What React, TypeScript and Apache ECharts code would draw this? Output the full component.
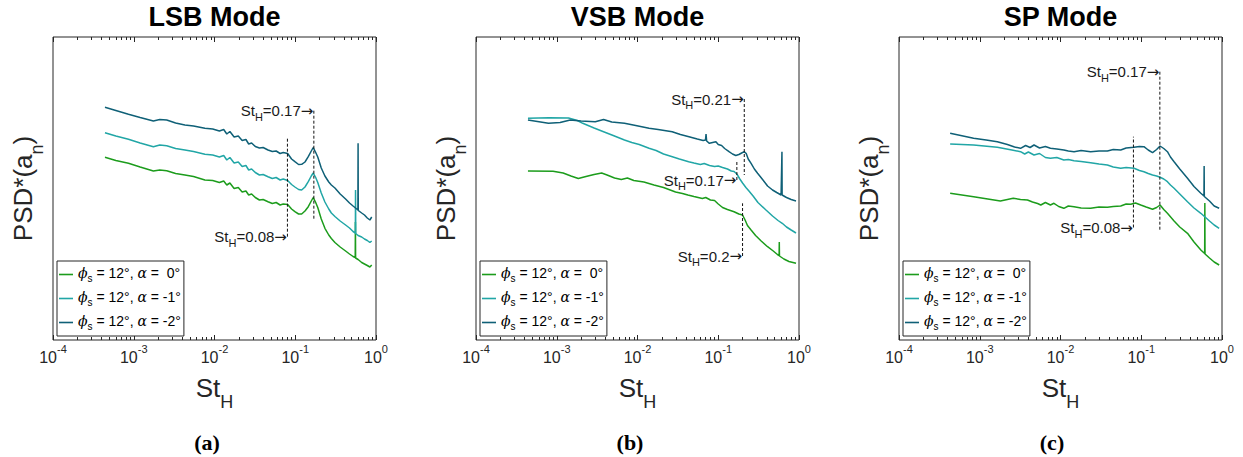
import React, { useEffect, useRef } from 'react';
import * as echarts from 'echarts';

type Pt = [number, number];
type Peak = [number, number, number];

const FONT = '"Liberation Sans", Arial, Helvetica, sans-serif';
const GREEK = '"DejaVu Serif", serif';
const ARROW_FONT = '"DejaVu Sans", sans-serif';
const AXIS_COLOR = '#262626';

const modeTitles = ['LSB Mode', 'VSB Mode', 'SP Mode'];
const panelCaptions = ['(a)', '(b)', '(c)'];
const seriesNames = ['alpha 0', 'alpha -1', 'alpha -2'];
const alphaTexts = [' 0°', '-1°', '-2°'];
const seriesColors = ['#1c9c1c', '#21a6a6', '#0f6077'];

// ---- LSB mode: [St_H, PSD* (arbitrary units)] ----
const lsbAlpha0: Pt[] = [
  [0.00044, 182.7], [0.0006, 179.5], [0.00086, 176.7], [0.0012, 173], [0.00175, 169], [0.0021, 170], [0.00256, 169.3],
  [0.0033, 166.5], [0.0043, 165], [0.0055, 163.5], [0.0076, 160], [0.0095, 159.5], [0.0115, 157.5], [0.013, 159],
  [0.0142, 155], [0.0155, 157], [0.0175, 151.5], [0.0197, 152.5], [0.022, 148], [0.0245, 149], [0.0265, 145],
  [0.0288, 146], [0.032, 142.5], [0.036, 140], [0.04, 140.5], [0.046, 138.3], [0.052, 136.5], [0.058, 137.5],
  [0.065, 135], [0.071, 136], [0.0805, 135.5], [0.09, 131], [0.099, 128.3], [0.11, 126], [0.12, 126], [0.132, 129],
  [0.145, 133.3], [0.158, 139], [0.167, 142.5], [0.178, 138], [0.19, 132.5], [0.21, 121], [0.233, 111.7], [0.26, 105],
  [0.28, 101.5], [0.31, 97.5], [0.36, 93], [0.42, 89], [0.47, 86], [0.52, 83.5], [0.553, 82.5], [0.556, 118],
  [0.559, 82], [0.6, 80.5], [0.665, 77.5], [0.72, 76], [0.78, 74.5], [0.84, 73], [0.885, 75],
];
const lsbAlpha1: Pt[] = [
  [0.00044, 207.3], [0.0006, 204], [0.00086, 200.7], [0.0012, 197], [0.00175, 193.3], [0.0021, 195], [0.00256, 194.3],
  [0.0033, 191.5], [0.0043, 190], [0.0055, 188.5], [0.0076, 185.7], [0.0095, 185], [0.0115, 183], [0.013, 184.5],
  [0.0142, 180], [0.0155, 182.5], [0.0175, 177], [0.0197, 178], [0.022, 173.5], [0.0245, 174.5], [0.0265, 170],
  [0.0288, 171], [0.032, 167.5], [0.036, 165], [0.04, 165.5], [0.046, 163.3], [0.052, 161.5], [0.058, 162.5],
  [0.065, 160], [0.071, 161], [0.0805, 159.5], [0.09, 155.5], [0.099, 153], [0.11, 150.5], [0.12, 150], [0.132, 153],
  [0.145, 158.3], [0.158, 164], [0.167, 167], [0.178, 163], [0.19, 157.5], [0.21, 147], [0.233, 138], [0.26, 131],
  [0.28, 127], [0.31, 123.5], [0.36, 119], [0.42, 115], [0.47, 112], [0.52, 108.5], [0.555, 107], [0.558, 150],
  [0.561, 106.5], [0.6, 104.5], [0.665, 103], [0.72, 101], [0.78, 99.5], [0.84, 97.5], [0.885, 99],
];
const lsbAlpha2: Pt[] = [
  [0.00044, 232.7], [0.0006, 229.5], [0.00086, 225.7], [0.0012, 222.5], [0.00175, 219], [0.0021, 220.5], [0.00256, 220],
  [0.0033, 217], [0.0043, 215], [0.0055, 214], [0.0076, 211.7], [0.0095, 211], [0.0115, 209], [0.013, 210.5],
  [0.0142, 206], [0.0155, 208.5], [0.0175, 203], [0.0197, 204], [0.022, 199.5], [0.0245, 200.5], [0.0265, 196],
  [0.0288, 197], [0.032, 193.5], [0.036, 192], [0.04, 192.5], [0.046, 190], [0.052, 188.5], [0.058, 189],
  [0.065, 186.5], [0.071, 187.5], [0.0805, 186.5], [0.09, 181], [0.099, 178.3], [0.11, 175.5], [0.12, 175.7], [0.132, 178],
  [0.145, 183.3], [0.158, 189], [0.167, 192.5], [0.178, 188], [0.19, 183], [0.21, 172], [0.233, 164], [0.26, 158],
  [0.28, 155], [0.31, 152], [0.36, 146], [0.42, 141], [0.47, 137], [0.52, 134], [0.597, 130], [0.6, 196.7],
  [0.603, 129.5], [0.665, 127], [0.72, 125], [0.78, 122], [0.84, 120], [0.885, 123],
];
// [St_H, label level, other end of dashed line]
const lsbPeaks: Peak[] = [[0.17, 229.3, 120], [0.08, 103.3, 202.3]];
const lsbPeakTexts = ['0.17', '0.08'];

// ---- VSB mode ----
const vsbAlpha0: Pt[] = [
  [0.00044, 169], [0.0009, 168.8], [0.0012, 167], [0.0015, 164], [0.00185, 161.5], [0.0023, 163.5], [0.0029, 165.5],
  [0.0036, 167], [0.0042, 165], [0.0052, 162], [0.0063, 160.5], [0.0075, 162], [0.009, 159.5], [0.012, 158],
  [0.016, 155], [0.021, 152.5], [0.0296, 148], [0.036, 146.5], [0.042, 145], [0.05, 143.5], [0.0636, 141.5],
  [0.07, 142.5], [0.08, 140], [0.09, 139.5], [0.1, 136], [0.113, 132.5], [0.13, 130.5], [0.157, 128.3], [0.18, 126],
  [0.2, 125], [0.215, 120], [0.23, 114.5], [0.255, 110], [0.29, 104.5], [0.34, 99], [0.408, 93.3], [0.48, 89],
  [0.55, 85], [0.567, 84.5], [0.57, 98], [0.573, 84], [0.65, 81], [0.75, 78.5], [0.918, 76.7],
];
const vsbAlpha1: Pt[] = [
  [0.00044, 221.7], [0.0008, 222.2], [0.0014, 222], [0.0018, 219.5], [0.0021, 216.7], [0.0029, 212], [0.0038, 208.3],
  [0.005, 204.5], [0.0069, 200], [0.0085, 197.5], [0.0105, 195.5], [0.0139, 191.7], [0.017, 189.5], [0.021, 186],
  [0.027, 183.3], [0.033, 181], [0.043, 178.3], [0.05, 177], [0.06, 175.5], [0.067, 176.5], [0.078, 174.5],
  [0.09, 173.5], [0.1, 174], [0.113, 172.5], [0.13, 171], [0.145, 169], [0.157, 168.5], [0.17, 166], [0.185, 161],
  [0.2, 157], [0.22, 152.5], [0.24, 149], [0.27, 144], [0.31, 137.5], [0.39, 130], [0.47, 124], [0.55, 119.5],
  [0.62, 116.7], [0.7, 113], [0.8, 110], [0.918, 107],
];
const vsbAlpha2: Pt[] = [
  [0.00044, 220], [0.00079, 216.7], [0.0011, 217.5], [0.00147, 220], [0.002, 219], [0.003, 218.3], [0.0038, 220.5],
  [0.0048, 218], [0.0069, 216.7], [0.0095, 214.5], [0.0139, 211.7], [0.018, 210.5], [0.0269, 208.3], [0.034, 205.5],
  [0.0434, 203.3], [0.055, 201], [0.065, 199.5], [0.0695, 200], [0.0706, 206], [0.0718, 199], [0.0777, 196.7],
  [0.0935, 198.3], [0.1, 195.5], [0.11, 194.5], [0.12, 191.5], [0.136, 188.3], [0.15, 186], [0.165, 184.5],
  [0.18, 185.5], [0.195, 187], [0.21, 188.3], [0.222, 186.5], [0.235, 181], [0.255, 176.7], [0.28, 171],
  [0.307, 166.7], [0.35, 161], [0.408, 154], [0.47, 150], [0.53, 147.5], [0.6, 145], [0.612, 145], [0.615, 188.3],
  [0.618, 145], [0.7, 142.5], [0.8, 140.5], [0.918, 139],
];
const vsbPeaks: Peak[] = [[0.21, 241, 165], [0.17, 160, 180], [0.2, 84, 136.7]];
const vsbPeakTexts = ['0.21', '0.17', '0.2'];

// ---- SP mode ----
const spAlpha0: Pt[] = [
  [0.00043, 146.7], [0.00084, 143.3], [0.0018, 139], [0.0026, 141.7], [0.0032, 140.5], [0.0039, 140], [0.0045, 138],
  [0.0052, 136.5], [0.0057, 135], [0.0065, 137.5], [0.0075, 135], [0.0083, 136.7], [0.0095, 133.5], [0.011, 131.7],
  [0.0125, 134], [0.0147, 133.3], [0.018, 132], [0.0236, 131.7], [0.03, 133], [0.0381, 132.7], [0.045, 133.5],
  [0.0557, 134], [0.065, 136], [0.0741, 135.7], [0.085, 137], [0.0986, 135], [0.115, 133], [0.138, 130.7],
  [0.155, 132.5], [0.171, 135], [0.19, 130.5], [0.211, 126.7], [0.255, 119], [0.3, 113], [0.374, 106.7], [0.45, 98],
  [0.547, 90], [0.6, 87], [0.61, 86.5], [0.613, 137], [0.616, 86], [0.7, 82], [0.8, 78], [0.922, 75],
];
const spAlpha1: Pt[] = [
  [0.00043, 196], [0.00084, 195], [0.00165, 192.7], [0.0025, 190], [0.0032, 188.3], [0.0036, 186], [0.004, 188],
  [0.0047, 185], [0.0055, 186.5], [0.0065, 182.5], [0.0075, 181.7], [0.009, 182.5], [0.011, 180], [0.0125, 180.5],
  [0.0147, 179.3], [0.018, 178.5], [0.0236, 177.3], [0.03, 176], [0.0381, 175], [0.045, 173], [0.0557, 171.7],
  [0.065, 172.5], [0.0815, 171.7], [0.095, 169.5], [0.108, 168.3], [0.122, 166.5], [0.138, 165], [0.155, 164],
  [0.171, 162.7], [0.19, 161], [0.211, 158.3], [0.23, 155], [0.255, 151.7], [0.3, 146], [0.374, 138.3], [0.45, 132],
  [0.547, 126.7], [0.7, 119], [0.8, 115], [0.922, 111.7],
];
const spAlpha2: Pt[] = [
  [0.00043, 206.7], [0.00084, 201.7], [0.0012, 200], [0.00165, 198.3], [0.0022, 195.5], [0.0027, 193], [0.0032, 191.7],
  [0.0037, 194.5], [0.0042, 192.5], [0.0047, 195], [0.0055, 192], [0.0065, 193.5], [0.0075, 191.7], [0.009, 191],
  [0.011, 190], [0.0125, 189], [0.0147, 188.3], [0.018, 189.5], [0.0236, 188.3], [0.03, 189], [0.0381, 189],
  [0.045, 190.5], [0.0557, 190], [0.065, 192], [0.0815, 192.7], [0.095, 193.5], [0.108, 193.3], [0.122, 190],
  [0.138, 187.3], [0.155, 190.5], [0.171, 194], [0.19, 191.5], [0.211, 188.3], [0.23, 183], [0.255, 178.3],
  [0.3, 171], [0.374, 161.7], [0.45, 153.5], [0.547, 146.7], [0.598, 144], [0.601, 174], [0.604, 143.5],
  [0.7, 139], [0.8, 134], [0.922, 131.7],
];
const spPeaks: Peak[] = [[0.08, 112.5, 203.3], [0.17, 268.3, 110]];
const spPeakTexts = ['0.08', '0.17'];

const panels = [
  { series: [lsbAlpha0, lsbAlpha1, lsbAlpha2], peaks: lsbPeaks, peakTexts: lsbPeakTexts },
  { series: [vsbAlpha0, vsbAlpha1, vsbAlpha2], peaks: vsbPeaks, peakTexts: vsbPeakTexts },
  { series: [spAlpha0, spAlpha1, spAlpha2], peaks: spPeaks, peakTexts: spPeakTexts },
];

// layout
const gridLefts = [53, 476, 899];
const GRID_TOP = 37;
const GRID_W = 323;
const GRID_H = 303;
const captionX = [207, 630, 1052];
const legendLefts = [57, 480, 903];

function buildOption(): any {
  const grid: any[] = [];
  const xAxis: any[] = [];
  const yAxis: any[] = [];
  const series: any[] = [];
  const legend: any[] = [];
  const graphic: any[] = [];

  const tickRich = {
    b: { fontSize: 16, fontFamily: FONT, color: AXIS_COLOR, verticalAlign: 'top', padding: [6, 0, 0, 0] },
    e: { fontSize: 11, fontFamily: FONT, color: AXIS_COLOR, verticalAlign: 'top' },
  };

  panels.forEach((p, i) => {
    grid.push({
      left: gridLefts[i], top: GRID_TOP, width: GRID_W, height: GRID_H,
      show: true, borderColor: AXIS_COLOR, borderWidth: 1, backgroundColor: 'rgba(0,0,0,0)',
      containLabel: false, outerBoundsMode: 'none',
    });
    const baseX = {
      type: 'log', logBase: 10, gridIndex: i, min: 0.0001, max: 1,
      axisLine: { show: false },
      axisTick: { show: true, inside: true, length: 5, lineStyle: { color: AXIS_COLOR, width: 1 } },
      minorTick: { show: true, splitNumber: 9, length: 3, lineStyle: { color: AXIS_COLOR, width: 1 } },
      splitLine: { show: false },
      minorSplitLine: { show: false },
    };
    xAxis.push({
      ...baseX, position: 'bottom',
      axisLabel: {
        show: true, margin: 3,
        formatter: (v: number) => `{b|10}{e|${Math.round(Math.log10(v))}}`,
        rich: tickRich,
      },
    });
    xAxis.push({ ...baseX, position: 'top', axisLabel: { show: false } });
    yAxis.push({ type: 'value', gridIndex: i, min: 0, max: GRID_H, show: false });

    p.series.forEach((data, k) => {
      series.push({
        type: 'line', name: seriesNames[k], xAxisIndex: 2 * i, yAxisIndex: i, data,
        symbol: 'none', showSymbol: false, silent: true, z: 3 + k,
        color: seriesColors[k],
        lineStyle: { color: seriesColors[k], width: 1.5 },
      });
    });

    p.peaks.forEach((pk, j) => {
      series.push({
        type: 'line', name: '_peakline', xAxisIndex: 2 * i, yAxisIndex: i,
        data: [[pk[0], pk[1]], [pk[0], pk[2]]],
        symbol: 'none', silent: true, z: 10,
        lineStyle: { color: '#111', width: 1, type: [3, 2] },
      });
      series.push({
        type: 'scatter', name: '_peaklabel', xAxisIndex: 2 * i, yAxisIndex: i,
        data: [[pk[0], pk[1]]], symbolSize: 1, itemStyle: { color: 'rgba(0,0,0,0)' }, silent: true, z: 11,
        label: {
          show: true, position: 'left', distance: 0, offset: [0, 2], opacity: 1,
          formatter: () => `{m|St}{s|H}{m|=${p.peakTexts[j]}}{r|→}`,
          rich: {
            m: { fontSize: 15, fontFamily: FONT, color: '#1a1a1a', verticalAlign: 'top' },
            s: { fontSize: 11, fontFamily: FONT, color: '#1a1a1a', verticalAlign: 'top', padding: [8, 0, 0, 0] },
            r: { fontSize: 15, fontFamily: ARROW_FONT, color: '#1a1a1a', verticalAlign: 'top' },
          },
        },
      });
    });

    legend.push({
      data: seriesNames, left: legendLefts[i], top: 261, orient: 'vertical',
      icon: 'rect', itemWidth: 14, itemHeight: 1.6, itemGap: 7, padding: [5, 3, 5, 2],
      borderColor: AXIS_COLOR, borderWidth: 1, borderRadius: 0, backgroundColor: '#fff',
      selectedMode: false,
      formatter: (name: string) => {
        const k = seriesNames.indexOf(name);
        return `{g|ϕ}{s|s}{t| = 12°, }{g|α}{t| = ${alphaTexts[k]}}`;
      },
      textStyle: {
        fontSize: 14, fontFamily: FONT, color: '#000',
        rich: {
          g: { fontSize: 14, fontFamily: GREEK, fontStyle: 'italic', color: '#000', verticalAlign: 'top' },
          s: { fontSize: 10, fontFamily: FONT, color: '#000', verticalAlign: 'top', padding: [7, 0, 0, 0] },
          t: { fontSize: 14, fontFamily: FONT, color: '#000', verticalAlign: 'top' },
        },
      },
    });

    const cx = gridLefts[i] + GRID_W / 2;
    graphic.push({
      type: 'text', x: cx, y: 17, silent: true,
      style: {
        text: modeTitles[i], fontSize: 27, fontWeight: 'bold', fontFamily: FONT, fill: '#000',
        align: 'center', verticalAlign: 'middle',
      },
    });
    graphic.push({
      type: 'text', x: captionX[i], y: 442, silent: true,
      style: {
        text: panelCaptions[i], fontSize: 22, fontWeight: 'bold', fontFamily: '"Liberation Serif", "Times New Roman", serif',
        fill: '#000', align: 'center', verticalAlign: 'middle',
      },
    });
    graphic.push({
      type: 'text', x: cx, y: 375, silent: true,
      style: {
        text: '{m|St}{s|H}', align: 'center', verticalAlign: 'top', fill: AXIS_COLOR,
        rich: {
          m: { fontSize: 26, fontFamily: FONT, fill: AXIS_COLOR, verticalAlign: 'top' },
          s: { fontSize: 18, fontFamily: FONT, fill: AXIS_COLOR, verticalAlign: 'top', padding: [18, 0, 0, 0] },
        },
      },
    });
    graphic.push({
      type: 'text', x: gridLefts[i] - 43.5, y: GRID_TOP + GRID_H / 2, rotation: Math.PI / 2, silent: true,
      style: {
        text: '{m|PSD*(a}{s|n}{m|)}', align: 'center', verticalAlign: 'top', fill: AXIS_COLOR,
        rich: {
          m: { fontSize: 26, fontFamily: FONT, fill: AXIS_COLOR, verticalAlign: 'top' },
          s: { fontSize: 18, fontFamily: FONT, fill: AXIS_COLOR, verticalAlign: 'top', padding: [18, 0, 0, 0] },
        },
      },
    });
  });

  return {
    animation: false,
    backgroundColor: '#fff',
    textStyle: { fontFamily: FONT },
    grid, xAxis, yAxis, series, legend, graphic,
  };
}

export default function App() {
  const ref = useRef<HTMLDivElement>(null);
  useEffect(() => {
    const chart = echarts.init(ref.current!, null, { renderer: 'svg' });
    chart.setOption(buildOption());
    return () => chart.dispose();
  }, []);
  return (
    <div
      ref={ref}
      style={{ position: 'fixed', left: 0, top: 0, width: 1243, height: 457, background: '#fff' }}
    />
  );
}
